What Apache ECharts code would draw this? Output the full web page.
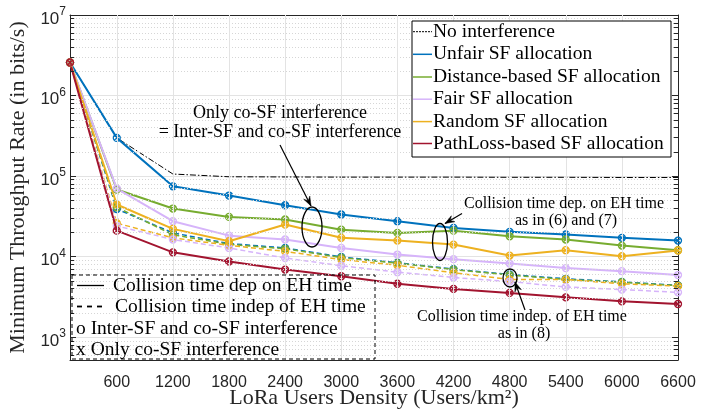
<!DOCTYPE html>
<html><head><meta charset="utf-8">
<script src="https://cdn.jsdelivr.net/npm/echarts@6/dist/echarts.min.js"></script>
<style>html,body{margin:0;padding:0;background:#fff}#c{width:720px;height:413px}</style>
</head><body><div id="c"></div>
<script>
// ---------- data ----------
const densities = [100, 600, 1200, 1800, 2400, 3000, 3600, 4200, 4800, 5400, 6000, 6600];
const xTickValues = [600, 1200, 1800, 2400, 3000, 3600, 4200, 4800, 5400, 6000, 6600];
const yDecades = [1e3, 1e4, 1e5, 1e6, 1e7];

const noInterference = [2.57e6, 2.98e5, 1.06e5, 9.8e4, 9.75e4, 9.7e4, 9.7e4, 9.7e4, 9.65e4, 9.65e4, 9.6e4, 9.6e4];
// collision time dependent on EH time (solid)
const unfairDep   = [2.57e6, 2.98e5, 7.46e4, 5.73e4, 4.34e4, 3.33e4, 2.75e4, 2.27e4, 2.03e4, 1.88e4, 1.71e4, 1.58e4];
const distanceDep = [2.57e6, 6.8e4, 3.95e4, 3.11e4, 2.89e4, 2.16e4, 1.97e4, 2.1e4, 1.79e4, 1.63e4, 1.37e4, 1.2e4];
const fairDep     = [2.57e6, 7.0e4, 2.75e4, 1.82e4, 1.63e4, 1.28e4, 1.06e4, 9.3e3, 8.2e3, 7.2e3, 6.6e3, 5.9e3];
const randomDep   = [2.57e6, 4.43e4, 2.21e4, 1.55e4, 2.5e4, 1.71e4, 1.58e4, 1.41e4, 1.03e4, 1.2e4, 1.01e4, 1.19e4];
const pathLossDep = [2.57e6, 2.1e4, 1.13e4, 8.7e3, 6.9e3, 5.7e3, 4.6e3, 3.97e3, 3.54e3, 3.12e3, 2.78e3, 2.58e3];
// collision time independent of EH time (dashed)
const unfairIndep   = [2.57e6, 3.9e4, 1.97e4, 1.45e4, 1.28e4, 9.9e3, 8.4e3, 7.0e3, 6.0e3, 5.3e3, 4.85e3, 4.4e3];
const distanceIndep = [2.57e6, 4.1e4, 1.87e4, 1.42e4, 1.25e4, 9.7e3, 8.3e3, 6.9e3, 5.9e3, 5.2e3, 4.8e3, 4.35e3];
const randomIndep   = [2.57e6, 2.6e4, 1.71e4, 1.38e4, 1.16e4, 9.2e3, 7.8e3, 6.3e3, 5.2e3, 5.2e3, 4.6e3, 4.3e3];
const fairIndep     = [2.57e6, 2.4e4, 1.63e4, 1.28e4, 9.6e3, 7.7e3, 6.4e3, 5.5e3, 4.9e3, 4.2e3, 3.9e3, 3.6e3];

const legendNames = ['No interference', 'Unfair SF allocation', 'Distance-based SF allocation',
  'Fair SF allocation', 'Random SF allocation', 'PathLoss-based SF allocation'];

// ---------- style ----------
const C = { none: '#000000', unfair: '#0072BD', distance: '#77AC30', fair: '#D6B4FA', random: '#EDB120', pathloss: '#A2142F' };
const serif = 'Liberation Serif';
const sans = 'Liberation Sans';
const axisColor = '#262626';
const sym = 'path://M10 0A10 10 0 1 1 -10 0A10 10 0 1 1 10 0ZM-7.07 -7.07L7.07 7.07M-7.07 7.07L7.07 -7.07';
const YMIN = 520, YMAX = 1e7, XMIN = 100, XMAX = 6600;

function pts(arr) { return densities.map((x, i) => [x, arr[i]]); }
function ls(name, arr, color, dashed) {
  return {
    name, type: 'line', data: pts(arr), symbol: sym, symbolSize: 7, symbolKeepAspect: true,
    showAllSymbol: true, animation: false, z: dashed ? 3 : 4,
    lineStyle: { color, width: dashed ? 1.5 : 2, type: dashed ? [5, 3] : 'solid' },
    itemStyle: { color: 'rgba(0,0,0,0)', borderColor: color, borderWidth: 1.3 }
  };
}

// grid helper lines (minor dotted, vertical major)
const minorVals = [];
yDecades.slice(0, 4).forEach(d => { for (let k = 2; k <= 9; k++) minorVals.push(d * k); });
[6e2, 7e2, 8e2, 9e2].forEach(v => minorVals.unshift(v));
const minorLines = minorVals.map(v => ({ yAxis: v }));
const vLines = xTickValues.slice(0, -1).map(v => ({ xAxis: v }));
const tickLen = 45;
const minorTicks = [];
minorVals.forEach(v => {
  minorTicks.push([{ coord: [XMIN, v] }, { coord: [XMIN + tickLen, v] }]);
  minorTicks.push([{ coord: [XMAX - tickLen, v] }, { coord: [XMAX, v] }]);
});

const chart = echarts.init(document.getElementById('c'), null, { renderer: 'canvas' });

const series = [
  { type: 'line', data: [], silent: true, animation: false, z: 1,
    markLine: { silent: true, symbol: ['none', 'none'], label: { show: false }, animation: false,
      lineStyle: { color: '#d6d6d6', width: 1, type: [1, 2] }, data: minorLines } },
  { type: 'line', data: [], silent: true, animation: false, z: 1,
    markLine: { silent: true, symbol: ['none', 'none'], label: { show: false }, animation: false,
      lineStyle: { color: '#e3e3e3', width: 1, type: 'solid' }, data: vLines } },
  { type: 'line', data: [], silent: true, animation: false, z: 5,
    markLine: { silent: true, symbol: ['none', 'none'], label: { show: false }, animation: false,
      lineStyle: { color: axisColor, width: 1, type: 'solid' }, data: minorTicks } },
  ls('Unfair (indep)', unfairIndep, C.unfair, true),
  ls('Distance (indep)', distanceIndep, C.distance, true),
  ls('Random (indep)', randomIndep, C.random, true),
  ls('Fair (indep)', fairIndep, C.fair, true),
  { name: legendNames[0], type: 'line', data: pts(noInterference), symbol: 'none', animation: false, z: 4,
    lineStyle: { color: C.none, width: 1, type: [6, 2, 1.5, 2] } },
  ls(legendNames[1], unfairDep, C.unfair, false),
  ls(legendNames[2], distanceDep, C.distance, false),
  ls(legendNames[3], fairDep, C.fair, false),
  ls(legendNames[4], randomDep, C.random, false),
  ls(legendNames[5], pathLossDep, C.pathloss, false)
];

chart.setOption({
  backgroundColor: '#ffffff',
  animation: false,
  grid: { left: 70, right: 42, top: 15, bottom: 53, containLabel: false, outerBoundsMode: 'none' },
  xAxis: [{
    type: 'value', min: XMIN, max: XMAX, position: 'bottom',
    name: 'LoRa Users Density (Users/km²)', nameLocation: 'middle', nameGap: 27, nameMoveOverlap: false,
    nameTextStyle: { fontFamily: serif, fontSize: 22, color: axisColor },
    axisLine: { show: true, lineStyle: { color: axisColor, width: 1 } },
    axisTick: { show: true, inside: true, length: 6, customValues: xTickValues, lineStyle: { color: axisColor } },
    axisLabel: { customValues: xTickValues, fontFamily: sans, fontSize: 16, color: axisColor, margin: 15,
      formatter: v => String(v) },
    splitLine: { show: false }
  }, {
    type: 'value', min: XMIN, max: XMAX, position: 'top',
    axisLine: { show: true, lineStyle: { color: axisColor, width: 1 } },
    axisTick: { show: true, inside: true, length: 6, customValues: xTickValues, lineStyle: { color: axisColor } },
    axisLabel: { show: false }, splitLine: { show: false }
  }],
  yAxis: [{
    type: 'log', min: YMIN, max: YMAX, position: 'left',
    name: 'Minimum Throughput Rate (in bits/s)', nameLocation: 'middle', nameGap: 41, nameRotate: 90, nameMoveOverlap: false,
    nameTextStyle: { fontFamily: serif, fontSize: 22, color: axisColor },
    axisLine: { show: true, lineStyle: { color: axisColor, width: 1 } },
    axisTick: { show: true, inside: true, length: 6, lineStyle: { color: axisColor } },
    axisLabel: {
      margin: 4, color: axisColor,
      formatter: v => {
        const l = Math.log10(v), e = Math.round(l);
        if (Math.abs(l - e) > 1e-6) return '';
        return '{b|10}{s|' + e + '}';
      },
      rich: {
        b: { fontFamily: sans, fontSize: 17, color: axisColor, padding: [8, 0, 0, 0] },
        s: { fontFamily: sans, fontSize: 12, color: axisColor, padding: [0, 0, 6, 0] }
      }
    },
    splitLine: { show: true, lineStyle: { color: '#e3e3e3', width: 1 } }
  }, {
    type: 'log', min: YMIN, max: YMAX, position: 'right',
    axisLine: { show: true, lineStyle: { color: axisColor, width: 1 } },
    axisTick: { show: true, inside: true, length: 6, lineStyle: { color: axisColor } },
    axisLabel: { show: false }, splitLine: { show: false }
  }],
  series
});

// ---------- annotations & legends (graphic) ----------
const g = [];
function text(t, x, y, size, align) {
  g.push({ type: 'text', z: 100, style: { text: t, x, y, font: size + "px 'Liberation Serif'", fill: '#000',
    textAlign: align || 'center', textVerticalAlign: 'middle', verticalAlign: 'middle' } });
}
function line(x1, y1, x2, y2, color, w, dash) {
  g.push({ type: 'line', z: 100, shape: { x1, y1, x2, y2 },
    style: { stroke: color, lineWidth: w || 1, lineDash: dash || null } });
}
function arrow(x1, y1, x2, y2) {
  line(x1, y1, x2, y2, '#000', 1.2);
  const a = Math.atan2(y2 - y1, x2 - x1), L = 10, W = 0.35;
  const p1 = [x2 - L * Math.cos(a - W), y2 - L * Math.sin(a - W)];
  const p2 = [x2 - L * Math.cos(a + W), y2 - L * Math.sin(a + W)];
  const pm = [x2 - 0.6 * L * Math.cos(a), y2 - 0.6 * L * Math.sin(a)];
  g.push({ type: 'polygon', z: 100, shape: { points: [[x2, y2], p1, pm, p2] }, style: { fill: '#000', stroke: '#000', lineWidth: 0.5 } });
}
function ellipse(cx, cy, rx, ry) {
  g.push({ type: 'ellipse', z: 100, shape: { cx, cy, rx, ry }, style: { fill: 'none', stroke: '#000', lineWidth: 1.3 } });
}

// annotation 1
text('Only co-SF interference', 280, 113, 18);
text('= Inter-SF and co-SF interference', 280, 132, 18);
arrow(280, 145, 311, 206);
ellipse(312, 227, 10, 20);
// annotation 2
text('Collision time dep. on EH time', 564, 203.5, 16);
text('as in (6) and (7)', 566, 221, 16);
arrow(462, 213.5, 445, 223.5);
ellipse(440, 242, 7.5, 18.5);
// annotation 3
text('Collision time indep. of EH time', 522, 317, 16);
text('as in (8)', 524, 334, 16);
arrow(525, 310, 515, 282);
ellipse(510, 278, 7, 9);

// top-right legend
g.push({ type: 'rect', z: 99, shape: { x: 412, y: 21, width: 259, height: 136 }, style: { fill: '#fff', stroke: '#000', lineWidth: 1 } });
const rowY = [31.7, 54.3, 77, 99.2, 121.6, 143.5];
const lcols = [C.none, C.unfair, C.distance, C.fair, C.random, C.pathloss];
legendNames.forEach((n, i) => {
  if (i === 0) line(413, rowY[i], 432, rowY[i], '#000', 1, [2, 1]);
  else line(413, rowY[i], 432, rowY[i], lcols[i], 1.5);
  text(n, 433, rowY[i], 19.5, 'left');
});

// bottom-left legend (dashed box)
g.push({ type: 'rect', z: 99, shape: { x: 72, y: 275, width: 303, height: 84 }, style: { fill: 'none', stroke: '#000', lineWidth: 1, lineDash: [4, 3] } });
line(77, 285.5, 104, 285.5, '#000', 1.3);
text('Collision time dep on EH time', 113, 285.5, 19.5, 'left');
line(77, 306.5, 104, 306.5, '#000', 1.8, [5, 5]);
text('Collision time indep of EH time', 115, 306.5, 19.5, 'left');
text('o Inter-SF and co-SF interference', 76, 328.5, 19.5, 'left');
text('x Only co-SF interference', 76, 349.5, 19.5, 'left');

chart.setOption({ graphic: { elements: g } });
</script>
</body></html>
